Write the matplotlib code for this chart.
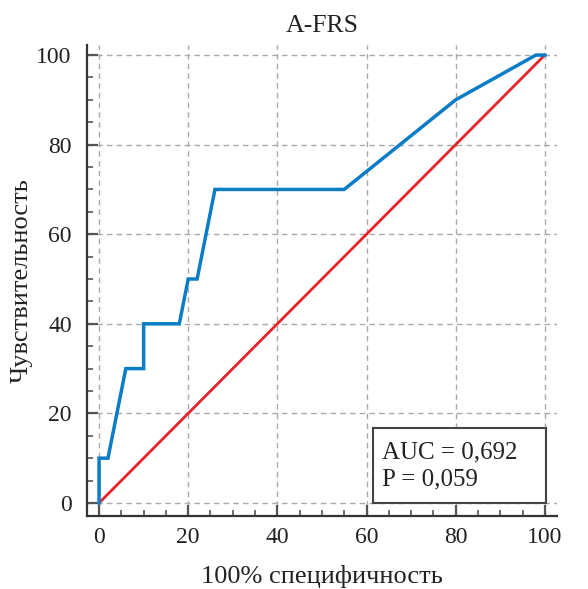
import matplotlib
matplotlib.use("Agg")
import matplotlib.pyplot as plt
from matplotlib.ticker import MultipleLocator
from matplotlib.patches import Rectangle

plt.rcParams['font.family'] = ['Liberation Serif', 'DejaVu Serif']

# ROC curve (100% - specificity, sensitivity)
fpr = [0, 0, 2, 6, 10, 10, 18, 20, 22, 26, 55, 80, 98, 100]
tpr = [0, 10, 10, 30, 30, 40, 40, 50, 50, 70, 70, 90, 100, 100]
ref_x = [0, 100]
ref_y = [0, 100]
xticks = [0, 20, 40, 60, 80, 100]
yticks = [0, 20, 40, 60, 80, 100]
title = "A-FRS"
xlabel = "100% специфичность"
ylabel = "Чувствительность"
auc_text = "AUC = 0,692\nP = 0,059"

fig = plt.figure(figsize=(5.88, 5.89), dpi=100)
ax = fig.add_axes([0.148, 0.124, 0.799, 0.800])

ax.plot(ref_x, ref_y, color='#e8222a', lw=2.0, zorder=3)
ax.plot(fpr, tpr, color='#0a7dc6', lw=2.5, zorder=4, solid_joinstyle='miter')

ax.set_xlim(-2.7, 102.7)
ax.set_ylim(-2.9, 102.3)
ax.set_xticks(xticks)
ax.set_yticks(yticks)
ax.xaxis.set_minor_locator(MultipleLocator(5))
ax.yaxis.set_minor_locator(MultipleLocator(5))

for s in ['top', 'right']:
    ax.spines[s].set_visible(False)
for s in ['left', 'bottom']:
    ax.spines[s].set_color('#333333')
    ax.spines[s].set_linewidth(1.6)

ax.tick_params(which='major', direction='in', length=8, width=1.6, color='#555555',
               labelsize=17, labelcolor='#222222')
ax.tick_params(axis='x', which='major', pad=8)
ax.tick_params(axis='y', which='major', pad=11)
ax.tick_params(which='minor', direction='in', length=4.5, width=1.2, color='#555555')

ax.grid(True, which='major', linestyle=(0, (4, 3)), color='#aaaaaa', lw=1.0)
ax.set_axisbelow(True)

ax.set_title(title, fontsize=18.5, color='#222222', pad=9)
ax.set_xlabel(xlabel, fontsize=19, color='#222222')
ax.set_ylabel(ylabel, fontsize=19, color='#222222')
ax.xaxis.label.set_va('center')
ax.yaxis.label.set_va('center')
ax.xaxis.set_label_coords(0.5, -(577 - 516) / (0.800 * 589))
ax.yaxis.set_label_coords(-(87 - 22) / (0.799 * 588), 0.5 + (503 - 280 - 0.5 * 471) / 471 * 0)

rect = Rectangle((61.4, -0.1), 38.8, 16.9, fill=True, facecolor='white',
                 edgecolor='#444444', lw=1.5, zorder=5)
ax.add_patch(rect)
ax.text(63.5, 8.2, auc_text, fontsize=18, color='#222222', va='center', ha='left',
        linespacing=1.3, zorder=6)

fig.savefig('out.png', dpi=100)
